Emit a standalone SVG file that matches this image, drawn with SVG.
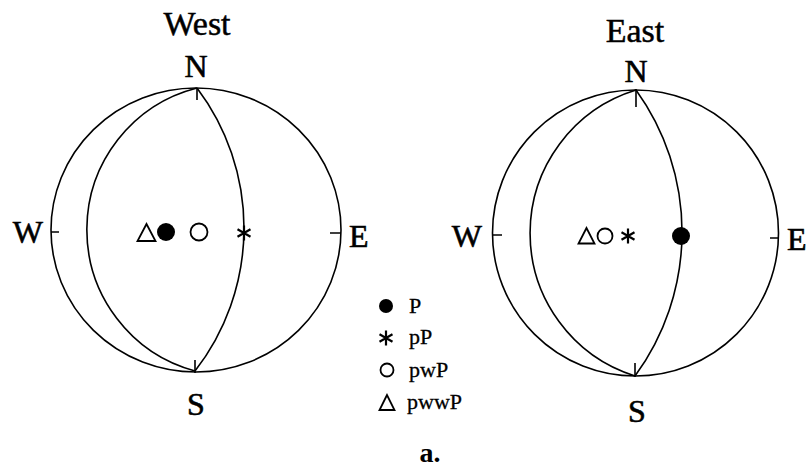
<svg xmlns="http://www.w3.org/2000/svg" width="807" height="470" viewBox="0 0 807 470">
<style>
.ln{fill:none;stroke:#000;stroke-width:1.6}
.sym{fill:none;stroke:#000;stroke-width:1.8}
.fill{fill:#000}
.lab{font-family:"Liberation Serif","Times New Roman",serif;font-size:32px;fill:#000;stroke:#000;stroke-width:0.6}
.ttl{font-family:"Liberation Serif","Times New Roman",serif;font-size:34px;fill:#000;stroke:#000;stroke-width:0.5;text-anchor:middle}
.leg{font-family:"Liberation Serif","Times New Roman",serif;font-size:22px;fill:#000;stroke:#000;stroke-width:0.3}
</style>
<defs>
<g id="ast"><path d="M0,-7.5V7.5M-6.5,-3.75L6.5,3.75M-6.5,3.75L6.5,-3.75" stroke="#000" stroke-width="2.2" fill="none"/></g>
</defs>
<rect width="807" height="470" fill="#fff"/>
<g id="west-net">
<text class="ttl" x="197" y="35">West</text>
<ellipse class="ln" cx="196" cy="230" rx="145" ry="142"/>
<path class="ln" d="M197,88 A146.3,146.3 0 0,0 195,371"/>
<path class="ln" d="M197,88 A232.6,232.6 0 0,1 195,371"/>
<path class="ln" d="M197,88V100M195,360V373M51,232H59M330,233H341"/>
<text class="lab" x="196" y="77" text-anchor="middle">N</text>
<text class="lab" x="196" y="415" text-anchor="middle">S</text>
<text class="lab" x="43" y="243" text-anchor="end">W</text>
<text class="lab" x="349" y="247">E</text>
<polygon class="sym" points="146.5,224 137.5,241 155.5,241"/>
<circle class="fill" cx="166" cy="232" r="9"/>
<circle class="sym" cx="199" cy="232" r="8.5"/>
<use href="#ast" x="244" y="233"/>
</g>
<g id="east-net">
<text class="ttl" x="635" y="42">East</text>
<circle class="ln" cx="635.5" cy="233" r="143"/>
<path class="ln" d="M636,90 A149.7,149.7 0 0,0 635,376"/>
<path class="ln" d="M636,90 A243,243 0 0,1 635,376"/>
<path class="ln" d="M636,89V107M635,363V377M493,235H502M770,238H778"/>
<text class="lab" x="636" y="82" text-anchor="middle">N</text>
<text class="lab" x="637" y="422" text-anchor="middle">S</text>
<text class="lab" x="482" y="247" text-anchor="end">W</text>
<text class="lab" x="787" y="250">E</text>
<polygon class="sym" points="586.5,228 578.5,243.5 594.5,243.5"/>
<circle class="sym" cx="605" cy="236" r="7.5"/>
<use href="#ast" x="628" y="236"/>
<circle class="fill" cx="681" cy="236" r="9"/>
</g>
<g id="legend">
<circle class="fill" cx="386" cy="306" r="7"/>
<text class="leg" x="409" y="313">P</text>
<use href="#ast" x="386" y="338"/>
<text class="leg" x="409" y="344">pP</text>
<circle class="sym" cx="387" cy="370" r="6.5"/>
<text class="leg" x="409" y="377">pwP</text>
<polygon class="sym" points="387,395 379.5,410 394.5,410"/>
<text class="leg" x="407" y="409">pwwP</text>
</g>
<text x="430" y="462" text-anchor="middle" font-family="Liberation Serif, Times New Roman, serif" font-size="28" font-weight="bold">a.</text>
</svg>
